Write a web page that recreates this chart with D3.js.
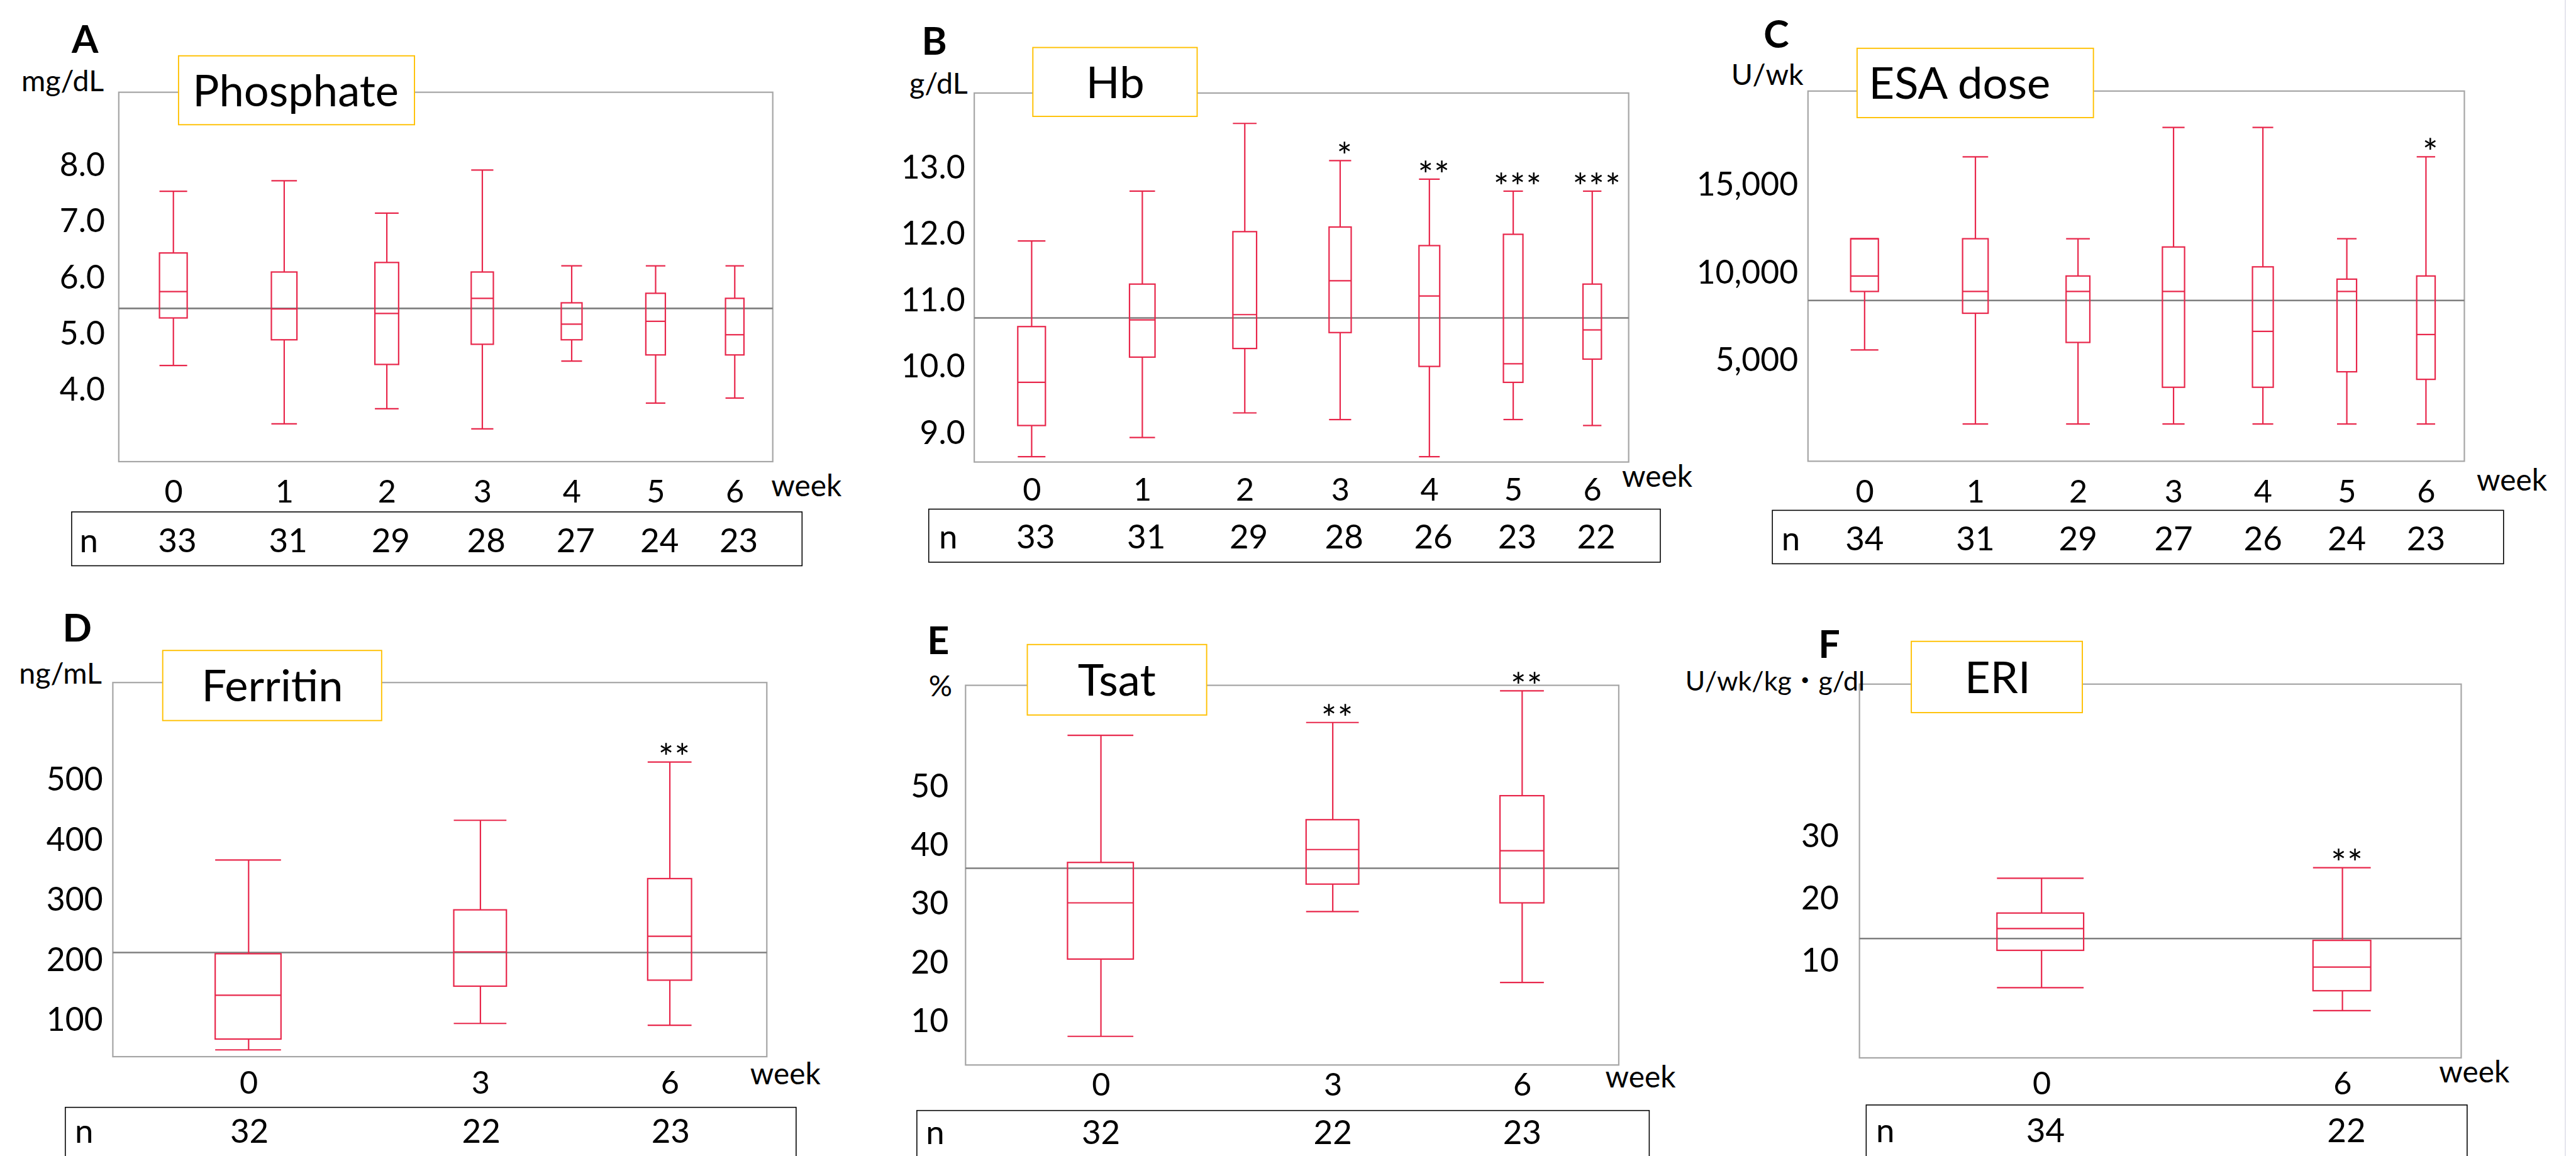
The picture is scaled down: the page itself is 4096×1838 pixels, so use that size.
<!DOCTYPE html>
<html>
<head>
<meta charset="utf-8">
<script src="https://cdn.jsdelivr.net/npm/d3@7"></script>
<style>
  body { margin: 0; background: #fff; }
  svg { display: block; font-family: Lato, 'Noto Sans CJK JP', sans-serif; }
</style>
</head>
<body>
<div id="chart"></div>
<script>
// ---- data : [min, Q1, median, Q3, max] per week ----
const weeksAll = [0, 1, 2, 3, 4, 5, 6];
const weeksIron = [0, 3, 6];
const weeksEri = [0, 6];

const phosphateStats = [
  [4.41, 5.26, 5.73, 6.42, 7.52],
  [3.37, 4.87, 5.42, 6.08, 7.71],
  [3.64, 4.43, 5.34, 6.25, 7.13],
  [3.28, 4.79, 5.61, 6.08, 7.90],
  [4.49, 4.87, 5.15, 5.53, 6.19],
  [3.74, 4.60, 5.20, 5.70, 6.19],
  [3.83, 4.60, 4.96, 5.61, 6.19]
];
const phosphateN = [33, 31, 29, 28, 27, 24, 23];
const phosphateStars = ['', '', '', '', '', '', ''];
const phosphateTicks = [4, 5, 6, 7, 8];
const phosphateRef = 5.43;

const hbStats = [
  [8.63, 9.10, 9.75, 10.59, 11.88],
  [8.92, 10.13, 10.69, 11.23, 12.63],
  [9.29, 10.26, 10.77, 12.02, 13.65],
  [9.19, 10.50, 11.28, 12.09, 13.09],
  [8.63, 9.99, 11.05, 11.81, 12.81],
  [9.19, 9.75, 10.03, 11.98, 12.63],
  [9.10, 10.10, 10.54, 11.23, 12.63]
];
const hbN = [33, 31, 29, 28, 26, 23, 22];
const hbStars = ['', '', '', '*', '**', '***', '***'];
const hbTicks = [9, 10, 11, 12, 13];
const hbRef = 10.72;

const esaStats = [
  [5540, 8870, 9750, 11870, 11870],
  [1330, 7630, 8870, 11870, 16530],
  [1330, 5970, 8870, 9750, 11870],
  [1330, 3420, 8870, 11400, 18200],
  [1330, 3420, 6600, 10270, 18200],
  [1330, 4300, 8870, 9570, 11870],
  [1330, 3870, 6420, 9750, 16530]
];
const esaN = [34, 31, 29, 27, 26, 24, 23];
const esaStars = ['', '', '', '', '', '', '*'];
const esaTicks = [5000, 10000, 15000];
const esaRef = 8355;

const ferritinStats = [
  [49, 67, 140, 209, 365],
  [93, 155, 212, 282, 431],
  [90, 165, 238, 334, 528]
];
const ferritinN = [32, 22, 23];
const ferritinStars = ['', '', '**'];
const ferritinTicks = [100, 200, 300, 400, 500];
const ferritinRef = 211;

const tsatStats = [
  [7.2, 20.4, 30.0, 36.9, 58.6],
  [28.5, 33.2, 39.1, 44.2, 60.8],
  [16.4, 30.0, 38.9, 48.3, 66.2]
];
const tsatN = [32, 22, 23];
const tsatStars = ['', '**', '**'];
const tsatTicks = [10, 20, 30, 40, 50];
const tsatRef = 35.9;

const eriStats = [
  [5.5, 11.5, 15.0, 17.5, 23.1],
  [1.8, 5.0, 8.8, 13.1, 24.8]
];
const eriN = [34, 22];
const eriStars = ['', '**'];
const eriTicks = [10, 20, 30];
const eriRef = 13.4;

// ---- layout, in pixels of the original 6507 x 2920 figure ----
const REF_W = 6507;
const W = 4096, H = 1838;
const k = W / REF_W;
// the week axis of the original is compressed to the right, like a log of (week + 12)
const WEEK_SHIFT = 12;

const RED = '#e8274b';

const panels = [
  { letter: 'A', title: 'Phosphate', unit: 'mg/dL', weeks: weeksAll, stats: phosphateStats, n: phosphateN,
    stars: phosphateStars, ticks: phosphateTicks, fmt: d3.format('.1f'), ref: phosphateRef,
    frame: [300, 233, 1952, 1166], yDomain: [2.695, 9.289], xRange: [438, 1856], half: 0.12,
    tickRight: 265, xLabelY: 1240, week: [1948, 1226], nBox: [181, 1293, 2026, 1429], nX: 201, nY: 1364, nDx: 10,
    titleBox: [451, 141, 1047, 315], titleX: 747, letterPos: [181, 134], unitPos: [54, 230], unitSize: 74 },
  { letter: 'B', title: 'Hb', unit: 'g/dL', weeks: weeksAll, stats: hbStats, n: hbN,
    stars: hbStars, ticks: hbTicks, fmt: d3.format('.1f'), ref: hbRef,
    frame: [2461, 235, 4114, 1167], yDomain: [8.55, 14.108], xRange: [2606, 4022], half: 0.12,
    tickRight: 2438, xLabelY: 1235, week: [4097, 1203], nBox: [2346, 1286, 4194, 1420], nX: 2372, nY: 1355, nDx: 10,
    titleBox: [2609, 120, 3024, 294], titleX: 2817, letterPos: [2328, 139], unitPos: [2297, 236], unitSize: 74 },
  { letter: 'C', title: 'ESA dose', unit: 'U/wk', weeks: weeksAll, stats: esaStats, n: esaN,
    stars: esaStars, ticks: esaTicks, fmt: d3.format(','), ref: esaRef,
    frame: [4567, 230, 6225, 1165], yDomain: [-788, 20270], xRange: [4710, 6128], half: 0.12,
    tickRight: 4542, xLabelY: 1240, week: [6256, 1212], nBox: [4477, 1289, 6324, 1424], nX: 4500, nY: 1360, nDx: 0,
    titleBox: [4691, 122, 5288, 297], titleX: 4950, letterPos: [4455, 120], unitPos: [4373, 215], unitSize: 74 },
  { letter: 'D', title: 'Ferritin', unit: 'ng/mL', weeks: weeksIron, stats: ferritinStats, n: ferritinN,
    stars: ferritinStars, ticks: ferritinTicks, fmt: d3.format('d'), ref: ferritinRef,
    frame: [285, 1724, 1937, 2669], yDomain: [37.7, 660.2], xRange: [628, 1692], half: 0.38,
    tickRight: 260, xLabelY: 2734, week: [1895, 2711], nBox: [165, 2797, 2011, 2935], nX: 189, nY: 2856, nDx: 2,
    titleBox: [411, 1643, 964, 1820], titleX: 688, letterPos: [158, 1621], unitPos: [48, 1727], unitSize: 74 },
  { letter: 'E', title: 'Tsat', unit: '%', weeks: weeksIron, stats: tsatStats, n: tsatN,
    stars: tsatStars, ticks: tsatTicks, fmt: d3.format('d'), ref: tsatRef,
    frame: [2439, 1731, 4089, 2690], yDomain: [2.31, 67.15], xRange: [2781, 3845], half: 0.38,
    tickRight: 2396, xLabelY: 2739, week: [4055, 2720], nBox: [2316, 2805, 4166, 2940], nX: 2339, nY: 2860, nDx: 0,
    titleBox: [2595, 1628, 3048, 1806], titleX: 2821, letterPos: [2342, 1652], unitPos: [2346, 1759], unitSize: 74 },
  { letter: 'F', title: 'ERI', unit: 'U/wk/kg・g/dl', weeks: weeksEri, stats: eriStats, n: eriN,
    stars: eriStars, ticks: eriTicks, fmt: d3.format('d'), ref: eriRef,
    frame: [4697, 1728, 6217, 2672], yDomain: [-5.8, 54.33], xRange: [5157, 5917], half: 0.7,
    tickRight: 4645, xLabelY: 2736, week: [6161, 2706], nBox: [4714, 2791, 6232, 2926], nX: 4739, nY: 2854, nDx: 10,
    titleBox: [4828, 1620, 5260, 1800], titleX: 5046, letterPos: [4593, 1661], unitPos: [4257, 1745], unitSize: 68 }
];

const svg = d3.select('#chart').append('svg')
  .attr('width', W)
  .attr('height', H);

svg.append('rect').attr('width', W).attr('height', H).attr('fill', '#fff');

const root = svg.append('g').attr('transform', `scale(${k})`);

// faint edge line on the right of the original
root.append('line')
  .attr('x1', 6480).attr('x2', 6480).attr('y1', 0).attr('y2', 2920)
  .attr('stroke', '#e4e4ec').attr('stroke-width', 3);

panels.forEach(p => drawPanel(root.append('g'), p));

function drawPanel(g, p) {
  const [fx0, fy0, fx1, fy1] = p.frame;
  const y = d3.scaleLinear().domain(p.yDomain).range([fy1, fy0]);
  const xLog = d3.scaleLog().domain([WEEK_SHIFT, WEEK_SHIFT + 6]).range(p.xRange);
  const x = w => xLog(w + WEEK_SHIFT);

  // plot frame
  g.append('rect')
    .attr('x', fx0).attr('y', fy0)
    .attr('width', fx1 - fx0).attr('height', fy1 - fy0)
    .attr('fill', 'none')
    .attr('stroke', '#a6a6a6')
    .attr('stroke-width', 3.5);

  // reference line
  g.append('line')
    .attr('x1', fx0).attr('x2', fx1)
    .attr('y1', y(p.ref)).attr('y2', y(p.ref))
    .attr('stroke', '#7f7f7f')
    .attr('stroke-width', 4);

  const rows = p.stats.map((s, i) => ({ week: p.weeks[i], s, star: p.stars[i], n: p.n[i] }));

  const box = g.selectAll('g.box')
    .data(rows)
    .join('g')
    .attr('class', 'box')
    .attr('fill', 'none')
    .attr('stroke', RED)
    .attr('stroke-width', 3.5);

  const left = d => x(d.week - p.half);
  const right = d => x(d.week + p.half);

  // whiskers
  box.append('line')
    .attr('x1', d => x(d.week)).attr('x2', d => x(d.week))
    .attr('y1', d => y(d.s[0])).attr('y2', d => y(d.s[1]));
  box.append('line')
    .attr('x1', d => x(d.week)).attr('x2', d => x(d.week))
    .attr('y1', d => y(d.s[3])).attr('y2', d => y(d.s[4]));
  // caps
  [0, 4].forEach(j => {
    box.append('line')
      .attr('x1', left).attr('x2', right)
      .attr('y1', d => y(d.s[j])).attr('y2', d => y(d.s[j]));
  });
  // box and median
  box.append('rect')
    .attr('x', left)
    .attr('y', d => y(d.s[3]))
    .attr('width', d => right(d) - left(d))
    .attr('height', d => y(d.s[1]) - y(d.s[3]));
  box.append('line')
    .attr('x1', left).attr('x2', right)
    .attr('y1', d => y(d.s[2])).attr('y2', d => y(d.s[2]));

  // significance stars
  g.selectAll('text.star')
    .data(rows.filter(d => d.star))
    .join('text')
    .attr('class', 'star')
    .attr('x', d => x(d.week) + 12)
    .attr('y', d => y(d.s[4]) + 22)
    .attr('text-anchor', 'middle')
    .attr('font-size', 92)
    .attr('letter-spacing', 2)
    .text(d => d.star);

  // y tick labels
  const yAxis = g.append('g')
    .attr('transform', `translate(${p.tickRight},0)`)
    .call(d3.axisLeft(y).tickValues(p.ticks).tickFormat(p.fmt).tickSize(0).tickPadding(0));
  yAxis.select('.domain').remove();
  yAxis.attr('font-family', null).attr('font-size', 82);
  yAxis.selectAll('text').attr('fill', '#000').attr('dy', '0.36em');

  // x tick labels
  const xAxis = g.append('g')
    .attr('transform', `translate(0,${p.xLabelY})`)
    .call(d3.axisBottom(xLog)
      .tickValues(p.weeks.map(w => w + WEEK_SHIFT))
      .tickFormat(d => d - WEEK_SHIFT)
      .tickSize(0).tickPadding(0));
  xAxis.select('.domain').remove();
  xAxis.attr('font-family', null).attr('font-size', 80);
  xAxis.selectAll('text').attr('fill', '#000').attr('dy', '0.36em');

  g.append('text')
    .attr('x', p.week[0]).attr('y', p.week[1])
    .attr('dy', '0.36em')
    .attr('font-size', 76)
    .text('week');

  // n table
  const [bx0, by0, bx1, by1] = p.nBox;
  g.append('rect')
    .attr('x', bx0).attr('y', by0)
    .attr('width', bx1 - bx0).attr('height', by1 - by0)
    .attr('fill', 'none')
    .attr('stroke', '#000')
    .attr('stroke-width', 2.5);
  g.append('text')
    .attr('x', p.nX).attr('y', p.nY)
    .attr('dy', '0.36em')
    .attr('font-size', 84)
    .text('n');
  g.selectAll('text.nval')
    .data(rows)
    .join('text')
    .attr('class', 'nval')
    .attr('x', d => x(d.week) + p.nDx)
    .attr('y', p.nY)
    .attr('dy', '0.36em')
    .attr('text-anchor', 'middle')
    .attr('font-size', 84)
    .text(d => d.n);

  // title box
  const [tx0, ty0, tx1, ty1] = p.titleBox;
  g.append('rect')
    .attr('x', tx0).attr('y', ty0)
    .attr('width', tx1 - tx0).attr('height', ty1 - ty0)
    .attr('fill', '#fff')
    .attr('stroke', '#ffc000')
    .attr('stroke-width', 3);
  g.append('text')
    .attr('x', p.titleX).attr('y', (ty0 + ty1) / 2)
    .attr('dy', '0.36em')
    .attr('text-anchor', 'middle')
    .attr('font-size', 112)
    .text(p.title);

  // panel letter and unit
  g.append('text')
    .attr('x', p.letterPos[0]).attr('y', p.letterPos[1])
    .attr('font-size', 97)
    .attr('font-weight', 700)
    .text(p.letter);
  g.append('text')
    .attr('x', p.unitPos[0]).attr('y', p.unitPos[1])
    .attr('font-size', p.unitSize)
    .text(p.unit);
}
</script>
</body>
</html>
